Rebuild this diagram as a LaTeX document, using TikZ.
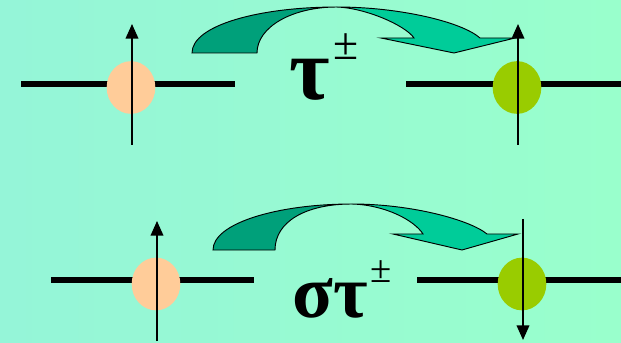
\documentclass[tikz,border=0pt]{standalone}
\usepackage{fontspec}
\setmainfont{Liberation Serif}
\usetikzlibrary{arrows.meta,shapes.geometric}

\definecolor{bgleft}{RGB}{149,245,216}
\definecolor{bgright}{RGB}{153,255,204}
\definecolor{orbfrom}{RGB}{255,204,153}
\definecolor{orbto}{RGB}{153,204,0}
\definecolor{bandback}{RGB}{0,160,122}
\definecolor{bandfront}{RGB}{0,204,153}

\tikzset{
    level/.style={line width=1.8mm},
    orb/.style={ellipse, inner sep=0pt, minimum width=14.6mm, minimum height=15.8mm},
    spin/.style={line width=0.5mm, -{Triangle[length=4.4mm, width=3.8mm]}},
    band/.style={draw=black, line width=0.8pt, line join=miter}
}

\begin{document}
\begin{tikzpicture}[x=0.3mm, y=-0.3mm]
    % Background
    \useasboundingbox (0,0) rectangle (621,343);
    \shade[left color=bgleft, right color=bgright] (0,0) rectangle (621,343);

    % Top row: tau
    \coordinate (l1a) at (21,84);  \coordinate (l1b) at (235,84);
    \coordinate (r1a) at (406,84); \coordinate (r1b) at (621,84);
    \draw[level] (l1a) -- (l1b);
    \draw[level] (r1a) -- (r1b);
    \node[orb, fill=orbfrom] (from1) at (131,87.5) {};
    \node[orb, fill=orbto] (to1) at (517,87.5) {};
    \coordinate (from1lo) at (132,145); \coordinate (from1hi) at (132,24);
    \coordinate (to1lo) at (518,145);   \coordinate (to1hi) at (518,24);
    \draw[spin] (from1lo) -- (from1hi);
    \draw[spin] (to1lo) -- (to1hi);
    \filldraw[band, fill=bandback] (192,53) .. controls (192,25) and (260,7) .. (337,7)
        .. controls (292,7) and (257,27) .. (257,53) -- cycle;
    \filldraw[band, fill=bandfront] (337,7) .. controls (400,7) and (462,22) .. (480,38)
        -- (515,38) -- (454,53) -- (381,38) -- (414,38)
        .. controls (405,25) and (365,8) .. (337,7) -- cycle;
    \node[anchor=base west, inner sep=0pt] (op1) at (289,100) {\fontsize{75}{75}\selectfont\bfseries τ};
    \node[anchor=base west, inner sep=0pt] (pm1) at (333,60) {\fontsize{39}{39}\selectfont ±};

    % Bottom row: sigma tau
    \coordinate (l2a) at (51,280);  \coordinate (l2b) at (254,280);
    \coordinate (r2a) at (417,280); \coordinate (r2b) at (621,280);
    \draw[level] (l2a) -- (l2b);
    \draw[level] (r2a) -- (r2b);
    \node[orb, fill=orbfrom] (from2) at (156,284) {};
    \node[orb, fill=orbto] (to2) at (522,284) {};
    \coordinate (from2lo) at (157,341); \coordinate (from2hi) at (157,221);
    \coordinate (to2hi) at (523,219);   \coordinate (to2lo) at (523,340);
    \draw[spin] (from2lo) -- (from2hi);
    \draw[spin] (to2hi) -- (to2lo);
    \filldraw[band, fill=bandback] (213,250) .. controls (213,223) and (278,204) .. (352,204)
        .. controls (305,204) and (275,222) .. (275,250) -- cycle;
    \filldraw[band, fill=bandfront] (352,204) .. controls (412,204) and (470,220) .. (487,234)
        -- (518,234) -- (462,250) -- (393,234) -- (423,234)
        .. controls (414,220) and (385,205) .. (352,204) -- cycle;
    \node[anchor=base west, inner sep=0pt] (op2) at (292,317) {\fontsize{64}{64}\selectfont\bfseries στ};
    \node[anchor=base west, inner sep=0pt] (pm2) at (370,282) {\fontsize{33}{33}\selectfont ±};
\end{tikzpicture}
\end{document}
